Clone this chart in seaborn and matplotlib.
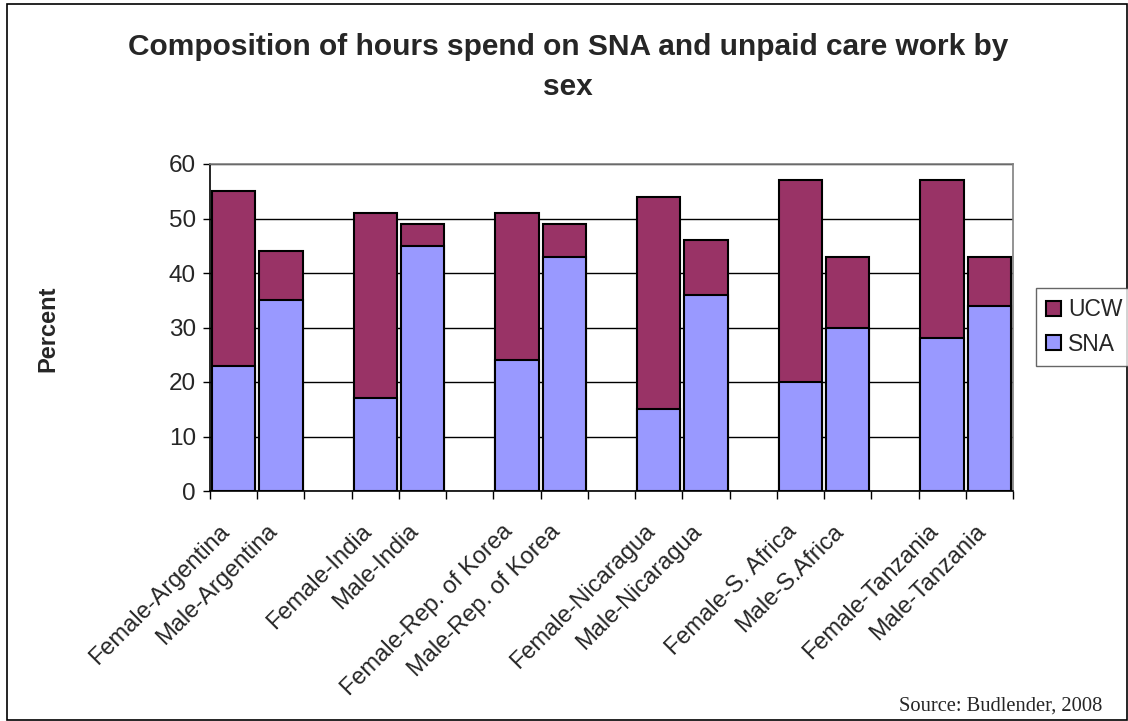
import pandas as pd
import seaborn as sns
import matplotlib.pyplot as plt
from matplotlib.patches import Patch, Rectangle
from matplotlib.transforms import ScaledTranslation

# categories in plot order; None marks the empty slot between countries
categories = ['Female-Argentina', 'Male-Argentina', None,
              'Female-India', 'Male-India', None,
              'Female-Rep. of Korea', 'Male-Rep. of Korea', None,
              'Female-Nicaragua', 'Male-Nicaragua', None,
              'Female-S. Africa', 'Male-S.Africa', None,
              'Female-Tanzania', 'Male-Tanzania']
sna = [23, 35, 17, 45, 24, 43, 15, 36, 20, 30, 28, 34]
ucw = [32, 9, 34, 4, 27, 6, 39, 10, 37, 13, 29, 9]

ucw_color = '#993366'
sna_color = '#9999FF'

order = [c if c is not None else f'gap{i}' for i, c in enumerate(categories)]
names = [c for c in categories if c is not None]
df = pd.DataFrame({'cat': names, 'SNA': sna, 'UCW': ucw})
df['total'] = df['SNA'] + df['UCW']

sns.set_style('white')
plt.rcParams['font.family'] = ['Liberation Sans', 'DejaVu Sans']

fig = plt.figure(figsize=(11.28, 7.21), dpi=100)
ax = fig.add_axes([210 / 1128, 1 - 491 / 721, 803 / 1128, 327 / 721])

sns.barplot(data=df, x='cat', y='total', order=order, color=ucw_color,
            saturation=1, width=0.92, edgecolor='black', linewidth=1.5, ax=ax, zorder=3)
sns.barplot(data=df, x='cat', y='SNA', order=order, color=sna_color,
            saturation=1, width=0.92, edgecolor='black', linewidth=1.5, ax=ax, zorder=3)

ax.set_xlim(-0.5, len(order) - 0.5)
ax.set_ylim(0, 60)
ax.set_yticks(range(0, 61, 10))
ax.yaxis.grid(True, color='black', linewidth=1, zorder=0)
ax.set_axisbelow(True)
ax.tick_params(axis='y', labelsize=17.5, length=5, width=1, direction='out',
               left=True, color='black', pad=5)

# ticks at category boundaries, labels at bar centres
ax.set_xticks([i - 0.5 for i in range(len(order) + 1)])
ax.set_xticklabels([])
ax.tick_params(axis='x', which='major', length=6, width=1, direction='out',
               bottom=True, color='black')
centres = [i for i, c in enumerate(categories) if c is not None]
ax.set_xticks(centres, minor=True)
ax.set_xticklabels(names, minor=True, rotation=45, ha='right',
                   rotation_mode='anchor', fontsize=17)
ax.tick_params(axis='x', which='minor', length=0, pad=21)
shift = ScaledTranslation(-15 / 100, 0, fig.dpi_scale_trans)
for lbl in ax.get_xticklabels(minor=True):
    lbl.set_transform(lbl.get_transform() + shift)

for side in ['left', 'bottom']:
    ax.spines[side].set_color('black')
    ax.spines[side].set_linewidth(1.2)
for side in ['top', 'right']:
    ax.spines[side].set_color('#808080')
    ax.spines[side].set_linewidth(1.2)

ax.set_xlabel('')
ax.set_ylabel('')
fig.text(48 / 1128, 1 - 329 / 721, 'Percent', rotation=90, fontsize=17,
         fontweight='bold', ha='center', va='center')

fig.text(568 / 1128, 1 - 67 / 721,
         'Composition of hours spend on SNA and unpaid care work by\nsex',
         ha='center', va='center', fontsize=21.5, fontweight='bold', linespacing=1.55)

handles = [Patch(facecolor=ucw_color, edgecolor='black', linewidth=1.5, label='UCW'),
           Patch(facecolor=sna_color, edgecolor='black', linewidth=1.5, label='SNA')]
leg = fig.legend(handles=handles, loc='upper left',
                 bbox_to_anchor=(1036 / 1128, 1 - 288 / 721), fontsize=16.5,
                 frameon=True, fancybox=False, handlelength=0.65, handleheight=0.65,
                 handletextpad=0.3, borderpad=0.45, labelspacing=0.5, borderaxespad=0)
leg.get_frame().set_edgecolor('#404040')
leg.get_frame().set_linewidth(1)

fig.text(1102 / 1128, 1 - 706 / 721, 'Source: Budlender, 2008',
         family='Liberation Serif', fontsize=14.8, ha='right', va='center')

fig.patches.append(Rectangle((7 / 1128, 1 / 721), 1120 / 1128, 716 / 721,
                             transform=fig.transFigure, fill=False,
                             edgecolor='black', linewidth=1.2))

fig.savefig('out.png', dpi=100)
